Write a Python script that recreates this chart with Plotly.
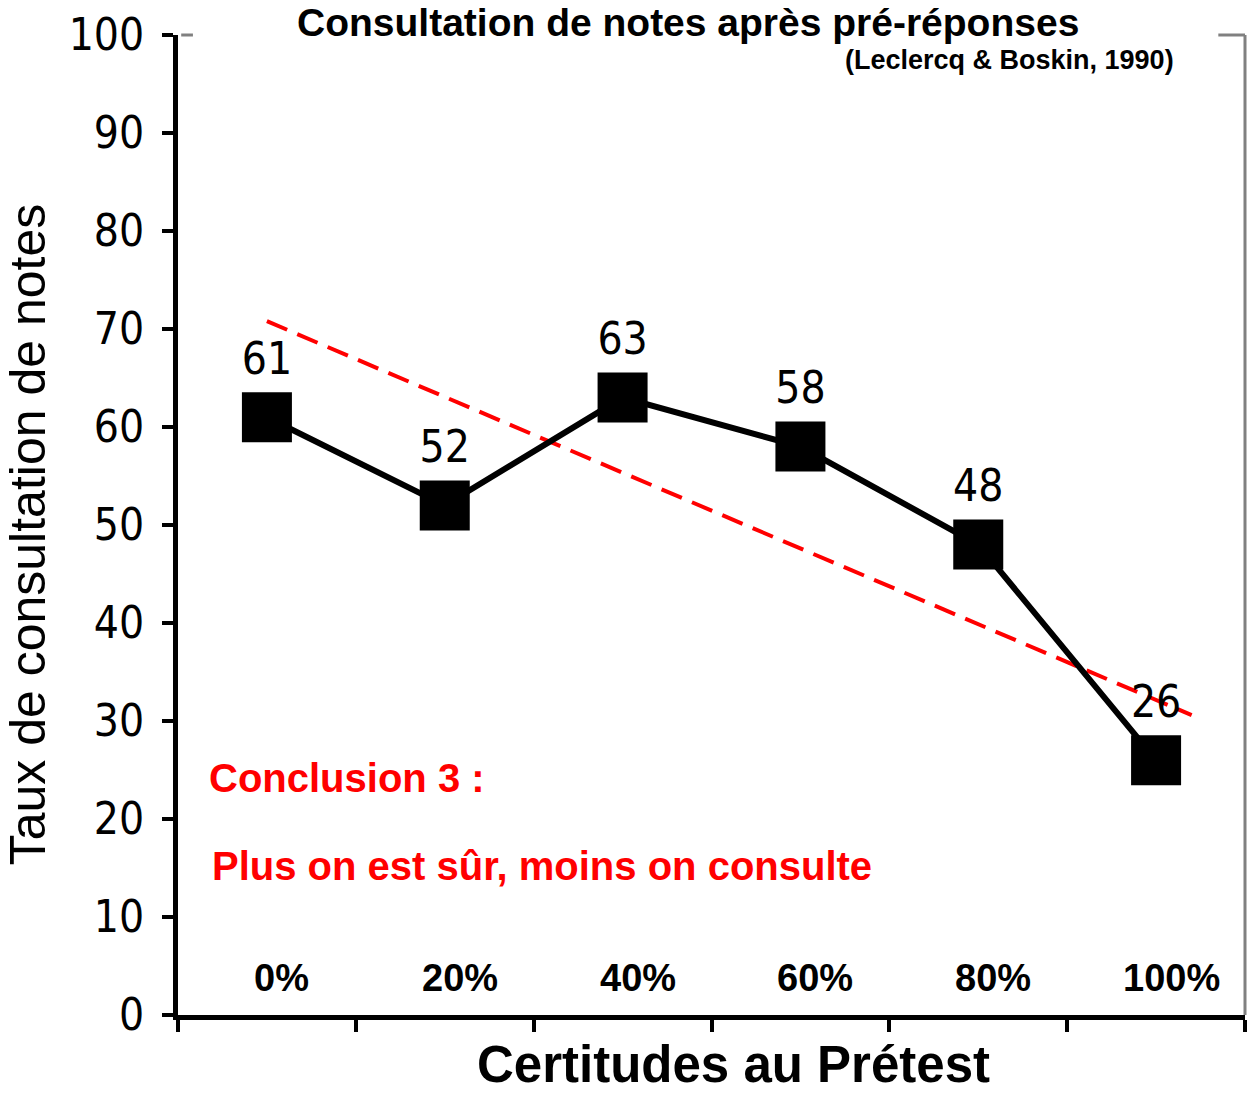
import plotly.graph_objects as go

categories = ["0%", "20%", "40%", "60%", "80%", "100%"]
values = [61, 52, 63, 58, 48, 26]
value_labels = ["61", "52", "63", "58", "48", "26"]
trend_x = [0.0, 5.2]
trend_y = [70.8, 30.6]
y_ticks = [0, 10, 20, 30, 40, 50, 60, 70, 80, 90, 100]

x_pos = list(range(len(categories)))
boundaries = [i - 0.5 for i in range(len(categories) + 1)]

NARROW = "Liberation Sans Narrow, Arial Narrow, DejaVu Sans Condensed, sans-serif"
ARIAL = "Liberation Sans, Arial, sans-serif"

fig = go.Figure()

fig.add_trace(go.Scatter(
    x=trend_x, y=trend_y, mode="lines",
    line=dict(color="#ff0000", width=4, dash="22px,11px"),
    hoverinfo="skip", showlegend=False))

fig.add_trace(go.Scatter(
    x=x_pos, y=values, mode="lines+markers+text",
    line=dict(color="black", width=6),
    marker=dict(symbol="square", size=50, color="black"),
    text=value_labels, textposition="top center",
    textfont=dict(family=NARROW, size=44, color="black"),
    showlegend=False))

# gray partial frame (top/right)
fig.add_shape(type="line", xref="paper", yref="paper", x0=1, x1=1, y0=0, y1=1,
              line=dict(color="#808080", width=3))
fig.add_shape(type="line", xref="paper", yref="paper", x0=0.003, x1=0.014, y0=1, y1=1,
              line=dict(color="#808080", width=3))
fig.add_shape(type="line", xref="paper", yref="paper", x0=0.975, x1=1, y0=1, y1=1,
              line=dict(color="#808080", width=3))

annotations = [
    dict(text="<b>Consultation de notes après pré-réponses</b>", xref="paper", yref="paper",
         x=0.478, y=1.0125, xanchor="center", yanchor="middle", showarrow=False,
         font=dict(family=ARIAL, size=39, color="black")),
    dict(text="<b>(Leclercq & Boskin, 1990)</b>", xref="paper", yref="paper",
         x=0.935, y=0.9745, xanchor="right", yanchor="middle", showarrow=False,
         font=dict(family=ARIAL, size=27, color="black")),
    dict(text="Taux de consultation de notes", xref="paper", yref="paper",
         x=-0.141, y=0.49, xanchor="center", yanchor="middle", textangle=-90,
         showarrow=False, font=dict(family=ARIAL, size=50, color="black")),
    dict(text="<b>Certitudes au Prétest</b>", xref="paper", yref="paper",
         x=0.5206, y=-0.050, xanchor="center", yanchor="middle", showarrow=False,
         font=dict(family=ARIAL, size=51, color="black")),
    dict(text="<b>Conclusion 3 :</b>", xref="paper", yref="paper",
         x=0.027, y=0.2418, xanchor="left", yanchor="middle", showarrow=False,
         font=dict(family=ARIAL, size=40, color="#ff0000")),
    dict(text="<b>Plus on est sûr, moins on consulte</b>", xref="paper", yref="paper",
         x=0.030, y=0.152, xanchor="left", yanchor="middle", showarrow=False,
         font=dict(family=ARIAL, size=40, color="#ff0000")),
]
for i, c in enumerate(categories):
    annotations.append(dict(text="<b>" + c + "</b>", xref="x", yref="paper",
                            x=x_pos[i], y=0.0378, xshift=15, xanchor="center", yanchor="middle",
                            showarrow=False, font=dict(family=ARIAL, size=38, color="black")))

fig.update_layout(
    width=1247, height=1095,
    margin=dict(l=178, r=2, t=35, b=80),
    paper_bgcolor="white", plot_bgcolor="white",
    annotations=annotations,
    xaxis=dict(range=[-0.5, 5.5], tickmode="array", tickvals=boundaries,
               ticktext=[""] * len(boundaries), ticks="outside", ticklen=12, tickwidth=4,
               tickcolor="black", showline=True, linecolor="black", linewidth=5,
               showgrid=False, zeroline=False),
    yaxis=dict(range=[0, 100], tickmode="array", tickvals=y_ticks,
               ticktext=[str(v) for v in y_ticks], ticks="outside", ticklen=11, tickwidth=4,
               tickcolor="black", showline=True, linecolor="black", linewidth=5,
               showgrid=False, zeroline=False, ticklabelstandoff=9,
               tickfont=dict(family=NARROW, size=44, color="black")),
)

fig.write_html("out.html", config={"displayModeBar": False},
               post_script="document.body.style.margin='0';document.body.style.overflow='hidden';")
